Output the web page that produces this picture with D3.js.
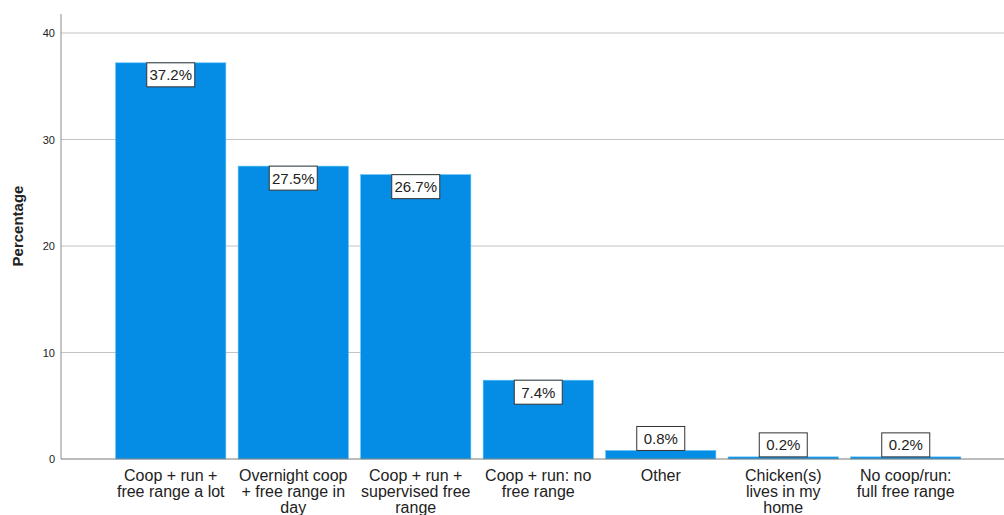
<!DOCTYPE html>
<html>
<head>
<meta charset="utf-8">
<style>
  body { margin: 0; background: #fff; }
  svg text { font-family: "Liberation Sans", Arial, sans-serif; fill: #222; }
</style>
</head>
<body>
<div id="graph"></div>
<script src="https://d3js.org/d3.v7.min.js"></script>
<script>
const categories = [
  ['Coop + run +', 'free range a lot'],
  ['Overnight coop', '+ free range in', 'day'],
  ['Coop + run +', 'supervised free', 'range'],
  ['Coop + run: no', 'free range'],
  ['Other'],
  ['Chicken(s)', 'lives in my', 'home'],
  ['No coop/run:', 'full free range']
];
const values = [37.2, 27.5, 26.7, 7.4, 0.8, 0.2, 0.2];
const yTicks = [0, 10, 20, 30, 40];

const width = 1004;
const height = 515;

const svg = d3.select('#graph')
  .append('svg')
  .attr('width', width)
  .attr('height', height);

// y scale: 0 at 459, 40 at 33
const yScale = d3.scaleLinear()
  .domain([0, 40])
  .range([459, 33]);

const xScale = d3.scaleBand()
  .domain(d3.range(categories.length))
  .range([109.5, 967])
  .paddingInner(0.1)
  .paddingOuter(0.05);

// gridlines
svg.append('g')
  .selectAll('line')
  .data(yTicks.filter(d => d > 0))
  .enter()
  .append('line')
  .attr('x1', 61)
  .attr('x2', width)
  .attr('y1', d => yScale(d))
  .attr('y2', d => yScale(d))
  .attr('stroke', '#c4c4c4')
  .attr('stroke-width', 1);

// y axis
const yAxis = d3.axisLeft(yScale).tickValues(yTicks).tickSize(0).tickPadding(6);
const yg = svg.append('g')
  .attr('transform', 'translate(61,0)')
  .call(yAxis);
yg.select('.domain').remove();
yg.selectAll('text').attr('font-size', 11).style('font-family', '"Liberation Sans", Arial, sans-serif').attr('fill', '#222');

svg.append('line')
  .attr('x1', 61).attr('x2', 61)
  .attr('y1', 14).attr('y2', 459)
  .attr('stroke', '#8c8c8c');

// bars
svg.append('g')
  .selectAll('rect')
  .data(values)
  .enter()
  .append('rect')
  .attr('x', (d, i) => xScale(i))
  .attr('y', d => yScale(d))
  .attr('width', xScale.bandwidth())
  .attr('height', d => yScale(0) - yScale(d))
  .attr('fill', '#058de6')
  .attr('stroke', '#5cc3f5')
  .attr('stroke-width', 0.6);

// x axis line
svg.append('line')
  .attr('x1', 61).attr('x2', width)
  .attr('y1', 459).attr('y2', 459)
  .attr('stroke', '#7a7a7a');

// value labels
const boxW = 48, boxH = 24;
const labels = svg.append('g')
  .selectAll('g')
  .data(values)
  .enter()
  .append('g')
  .attr('transform', (d, i) => {
    const cx = xScale(i) + xScale.bandwidth() / 2;
    const top = (yScale(0) - yScale(d)) > boxH + 4 ? yScale(d) : yScale(d) - boxH;
    return `translate(${cx - boxW / 2},${top})`;
  });
labels.append('rect')
  .attr('width', boxW)
  .attr('height', boxH)
  .attr('fill', '#fff')
  .attr('stroke', '#333')
  .attr('stroke-width', 1);
labels.append('text')
  .attr('x', boxW / 2)
  .attr('y', boxH / 2 + 5.5)
  .attr('text-anchor', 'middle')
  .attr('font-size', 15)
  .text(d => d.toFixed(1) + '%');

// category labels
const cat = svg.append('g')
  .selectAll('text')
  .data(categories)
  .enter()
  .append('text')
  .attr('text-anchor', 'middle')
  .attr('font-size', 16)
  .attr('x', (d, i) => xScale(i) + xScale.bandwidth() / 2)
  .attr('y', 481);
cat.selectAll('tspan')
  .data(d => d)
  .enter()
  .append('tspan')
  .attr('x', function () { return d3.select(this.parentNode).attr('x'); })
  .attr('dy', (d, i) => i === 0 ? 0 : 16)
  .text(d => d);

// y axis title
svg.append('text')
  .attr('transform', 'translate(23,226) rotate(-90)')
  .attr('text-anchor', 'middle')
  .attr('font-size', 15)
  .attr('font-weight', 'bold')
  .text('Percentage');
</script>
</body>
</html>
